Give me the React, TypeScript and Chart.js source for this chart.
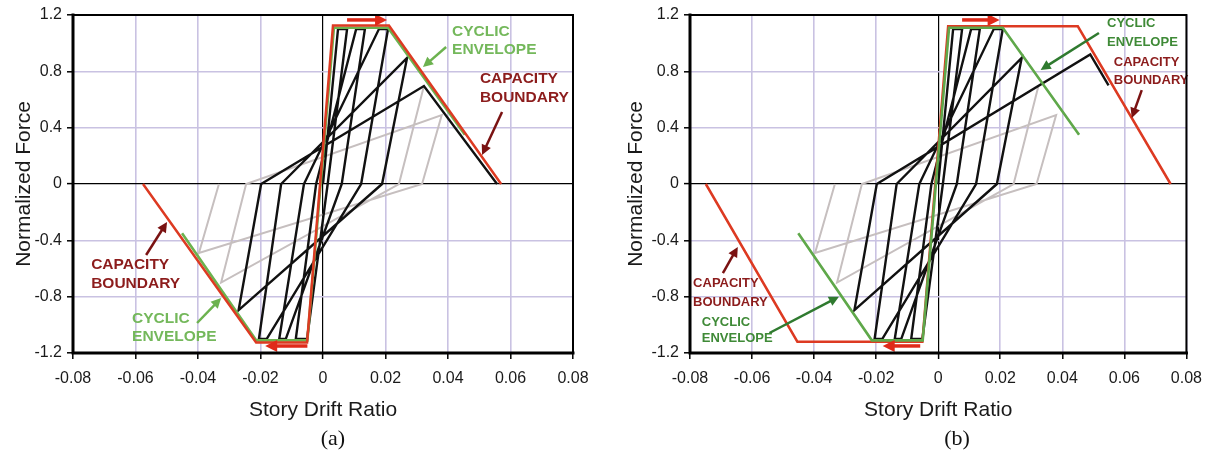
import React, { useEffect, useRef } from 'react';
import { Chart, registerables } from 'chart.js';

Chart.register(...registerables);

// ---------- axis ticks ----------
const xTickValues = [-0.08, -0.06, -0.04, -0.02, 0, 0.02, 0.04, 0.06, 0.08];
const xTickLabels = ['-0.08', '-0.06', '-0.04', '-0.02', '0', '0.02', '0.04', '0.06', '0.08'];
const yTickValues = [-1.2, -0.8, -0.4, 0, 0.4, 0.8, 1.2];
const yTickLabels = ['-1.2', '-0.8', '-0.4', '0', '0.4', '0.8', '1.2'];

// ---------- black hysteresis: first cycles (both panels) ----------
const cycleDrift = [0, 0.0048, 0.0077, 0.0015, -0.0051, -0.0087, -0.0022, 0.0106, 0.0134, 0.006, -0.0119, -0.014, -0.0061, 0.0179, 0.0208, 0.0122, -0.018, -0.0205, -0.0134, 0.0269, 0.0189, -0.027, -0.0198];
const cycleForce = [0, 1.1, 1.1, 0, -1.1, -1.1, 0, 1.1, 1.1, 0, -1.1, -1.1, 0, 1.1, 1.1, 0, -1.1, -1.1, 0, 0.895, 0, -0.895, 0];

// last black excursion, panel (a) and panel (b)
const tailDriftA = [0.0323, 0.0557];
const tailForceA = [0.696, 0];
const tailDriftB = [0.049, 0.0549];
const tailForceB = [0.92, 0.7];

// grey continuation cycles (both panels)
const grayDrift = [0.0323, 0.0243, -0.0326, -0.0246, 0.038, 0.0317, -0.0397, -0.0333];
const grayForce = [0.696, 0, -0.7, 0, 0.49, 0, -0.49, 0];

// cyclic envelope (both panels)
const envelopeDrift = [-0.0451, -0.0214, -0.005, 0.0035, 0.0208, 0.0454];
const envelopeForce = [-0.35, -1.11, -1.11, 1.11, 1.11, 0.35];

// capacity boundary
const capacityDriftA = [-0.0576, -0.0214, -0.0051, 0.0032, 0.0211, 0.057];
const capacityForceA = [0, -1.125, -1.125, 1.125, 1.125, 0];
const capacityDriftB = [-0.0749, -0.0454, -0.0051, 0.0032, 0.045, 0.0749];
const capacityForceB = [0, -1.12, -1.12, 1.12, 1.12, 0];

const FONT = "'Liberation Sans', Arial, Helvetica, sans-serif";
const GRID = '#c9c2e2';

const pts = (xs: number[], ys: number[]) => xs.map((x, i) => ({ x, y: ys[i] }));

// ---------- annotations (layout) ----------
const annotA = {
  texts: [
    { t: 'CYCLIC', x: 0.0413, y: 1.08, c: '#74b85b', s: 15.5 },
    { t: 'ENVELOPE', x: 0.0413, y: 0.951, c: '#74b85b', s: 15.5 },
    { t: 'CAPACITY', x: 0.0502, y: 0.745, c: '#8c1c1c', s: 15.5 },
    { t: 'BOUNDARY', x: 0.0502, y: 0.61, c: '#8c1c1c', s: 15.5 },
    { t: 'CAPACITY', x: -0.0742, y: -0.575, c: '#8c1c1c', s: 15.5 },
    { t: 'BOUNDARY', x: -0.0742, y: -0.71, c: '#8c1c1c', s: 15.5 },
    { t: 'CYCLIC', x: -0.0611, y: -0.958, c: '#74b85b', s: 15.5 },
    { t: 'ENVELOPE', x: -0.0611, y: -1.086, c: '#74b85b', s: 15.5 },
  ],
  arrows: [
    { a: [0.0394, 0.973], b: [0.032, 0.83], c: '#6cb24f', w: 2.5, h: 10 },
    { a: [0.0573, 0.511], b: [0.0509, 0.206], c: '#7a1212', w: 2.5, h: 10 },
    { a: [-0.0566, -0.504], b: [-0.0499, -0.27], c: '#7a1212', w: 2.5, h: 10 },
    { a: [-0.0403, -0.987], b: [-0.0326, -0.81], c: '#6cb24f', w: 2.5, h: 10 },
    { a: [0.0077, 1.165], b: [0.0205, 1.165], c: '#e02a1a', w: 3.5, h: 12 },
    { a: [-0.005, -1.15], b: [-0.0185, -1.15], c: '#e02a1a', w: 3.5, h: 12 },
  ],
};

const annotB = {
  texts: [
    { t: 'CYCLIC', x: 0.0544, y: 1.143, c: '#3f8a37', s: 13 },
    { t: 'ENVELOPE', x: 0.0544, y: 1.008, c: '#3f8a37', s: 13 },
    { t: 'CAPACITY', x: 0.0566, y: 0.866, c: '#8c1c1c', s: 13 },
    { t: 'BOUNDARY', x: 0.0566, y: 0.738, c: '#8c1c1c', s: 13 },
    { t: 'CAPACITY', x: -0.079, y: -0.703, c: '#8c1c1c', s: 13 },
    { t: 'BOUNDARY', x: -0.079, y: -0.838, c: '#8c1c1c', s: 13 },
    { t: 'CYCLIC', x: -0.0762, y: -0.98, c: '#3f8a37', s: 13 },
    { t: 'ENVELOPE', x: -0.0762, y: -1.1, c: '#3f8a37', s: 13 },
  ],
  arrows: [
    { a: [0.0518, 1.072], b: [0.033, 0.81], c: '#2f7a2f', w: 2.5, h: 10 },
    { a: [0.0656, 0.667], b: [0.0624, 0.469], c: '#7a1212', w: 2.5, h: 10 },
    { a: [-0.0694, -0.632], b: [-0.0646, -0.447], c: '#7a1212', w: 2.5, h: 10 },
    { a: [-0.0544, -1.058], b: [-0.032, -0.8], c: '#2f7a2f', w: 2.5, h: 10 },
    { a: [0.0077, 1.165], b: [0.0198, 1.165], c: '#e02a1a', w: 3.5, h: 12 },
    { a: [-0.0058, -1.15], b: [-0.0179, -1.15], c: '#e02a1a', w: 3.5, h: 12 },
  ],
};

const annotPlugin = {
  id: 'annot',
  afterDatasetsDraw(chart: any, _args: any, opts: any) {
    const { ctx } = chart;
    const xs = chart.scales.x;
    const ys = chart.scales.y;
    ctx.save();
    for (const ar of opts.arrows || []) {
      const x1 = xs.getPixelForValue(ar.a[0]);
      const y1 = ys.getPixelForValue(ar.a[1]);
      const x2 = xs.getPixelForValue(ar.b[0]);
      const y2 = ys.getPixelForValue(ar.b[1]);
      const ang = Math.atan2(y2 - y1, x2 - x1);
      const hl = ar.h;
      const hw = ar.h * 0.5;
      const bx = x2 - Math.cos(ang) * hl * 0.8;
      const by = y2 - Math.sin(ang) * hl * 0.8;
      ctx.strokeStyle = ar.c;
      ctx.fillStyle = ar.c;
      ctx.lineWidth = ar.w;
      ctx.lineCap = 'butt';
      ctx.beginPath();
      ctx.moveTo(x1, y1);
      ctx.lineTo(bx, by);
      ctx.stroke();
      ctx.beginPath();
      ctx.moveTo(x2, y2);
      ctx.lineTo(x2 - Math.cos(ang) * hl - Math.sin(ang) * hw, y2 - Math.sin(ang) * hl + Math.cos(ang) * hw);
      ctx.lineTo(x2 - Math.cos(ang) * hl + Math.sin(ang) * hw, y2 - Math.sin(ang) * hl - Math.cos(ang) * hw);
      ctx.closePath();
      ctx.fill();
    }
    for (const t of opts.texts || []) {
      ctx.font = `bold ${t.s}px ${FONT}`;
      ctx.fillStyle = t.c;
      ctx.textAlign = 'left';
      ctx.textBaseline = 'middle';
      ctx.fillText(t.t, xs.getPixelForValue(t.x), ys.getPixelForValue(t.y));
    }
    ctx.restore();
  },
};

const framePlugin = {
  id: 'frame',
  afterDraw(chart: any) {
    const { ctx, chartArea: a } = chart;
    ctx.save();
    ctx.strokeStyle = '#000';
    ctx.lineCap = 'square';
    ctx.lineWidth = 2;
    ctx.beginPath();
    ctx.moveTo(a.left, a.top);
    ctx.lineTo(a.right, a.top);
    ctx.lineTo(a.right, a.bottom);
    ctx.stroke();
    ctx.lineWidth = 3;
    ctx.beginPath();
    ctx.moveTo(a.left, a.top);
    ctx.lineTo(a.left, a.bottom);
    ctx.lineTo(a.right, a.bottom);
    ctx.stroke();
    ctx.restore();
  },
};

function buildConfig(panel: 'a' | 'b'): any {
  const isA = panel === 'a';
  const capacity = {
    data: pts(isA ? capacityDriftA : capacityDriftB, isA ? capacityForceA : capacityForceB),
    borderColor: '#dd3a22',
    borderWidth: 2.5,
    order: isA ? 0 : 1,
  };
  const envelope = {
    data: pts(envelopeDrift, envelopeForce),
    borderColor: isA ? '#6cb24f' : '#5fa84a',
    borderWidth: 2.6,
    order: isA ? 1 : 0,
  };
  const black = {
    data: pts(
      cycleDrift.concat(isA ? tailDriftA : tailDriftB),
      cycleForce.concat(isA ? tailForceA : tailForceB)
    ),
    borderColor: '#111',
    borderWidth: 2.4,
    order: 2,
  };
  const gray = {
    data: pts(grayDrift, grayForce),
    borderColor: '#c6bfbf',
    borderWidth: 2,
    order: 3,
  };
  const datasets = [capacity, envelope, black, gray].map((d) => ({
    ...d,
    showLine: true,
    pointRadius: 0,
    fill: false,
    tension: 0,
    borderJoinStyle: 'miter',
  }));

  const gridColor = (c: any) => (c.tick && Math.abs(c.tick.value) < 1e-9 ? '#000' : GRID);
  const gridWidth = (c: any) => (c.tick && Math.abs(c.tick.value) < 1e-9 ? 1.2 : 1.6);

  return {
    type: 'scatter',
    data: { datasets },
    options: {
      responsive: false,
      animation: false,
      events: [],
      layout: { padding: { left: 0, right: isA ? 33 : 22, top: 15, bottom: 0 } },
      plugins: {
        legend: { display: false },
        tooltip: { enabled: false },
        annot: isA ? annotA : annotB,
      },
      scales: {
        x: {
          type: 'linear',
          min: -0.08,
          max: 0.08,
          afterBuildTicks: (s: any) => {
            s.ticks = xTickValues.map((v) => ({ value: v }));
          },
          afterFit: (s: any) => {
            s.height = 100;
          },
          ticks: {
            callback: (_v: any, i: number) => xTickLabels[i],
            font: { size: 16, family: FONT },
            color: '#1a1a1a',
            padding: 10,
            maxRotation: 0,
            autoSkip: false,
          },
          grid: { color: gridColor, lineWidth: gridWidth, tickLength: 6, tickColor: '#000', tickWidth: 1.5 },
          border: { display: false },
          title: {
            display: true,
            text: 'Story Drift Ratio',
            font: { size: 21, family: FONT },
            color: '#1a1a1a',
            padding: { top: 0, bottom: 30 },
          },
        },
        y: {
          type: 'linear',
          min: -1.2,
          max: 1.2,
          afterBuildTicks: (s: any) => {
            s.ticks = yTickValues.map((v) => ({ value: v }));
          },
          afterFit: (s: any) => {
            s.width = isA ? 73 : 84;
          },
          ticks: {
            callback: (_v: any, i: number) => yTickLabels[i],
            font: { size: 16, family: FONT },
            color: '#1a1a1a',
            padding: 5,
            autoSkip: false,
          },
          grid: { color: gridColor, lineWidth: gridWidth, tickLength: 6, tickColor: '#000', tickWidth: 1.5 },
          border: { display: false },
          title: {
            display: true,
            text: 'Normalized Force',
            font: { size: 21, family: FONT },
            color: '#1a1a1a',
            padding: { top: isA ? 12 : 18, bottom: 0 },
          },
        },
      },
    },
    plugins: [framePlugin, annotPlugin],
  };
}

function Panel({ panel, left }: { panel: 'a' | 'b'; left: number }) {
  const ref = useRef<HTMLCanvasElement>(null);
  useEffect(() => {
    const chart = new Chart(ref.current as HTMLCanvasElement, buildConfig(panel));
    return () => chart.destroy();
  }, [panel]);
  return (
    <canvas
      ref={ref}
      width={606}
      height={453}
      style={{ position: 'absolute', left, top: 0, width: 606, height: 453 }}
    />
  );
}

const captionStyle: React.CSSProperties = {
  position: 'absolute',
  top: 424,
  width: 100,
  textAlign: 'center',
  fontFamily: "'Liberation Serif', 'Times New Roman', serif",
  fontSize: 22,
  lineHeight: '28px',
  color: '#111',
};

export default function App() {
  return (
    <div style={{ position: 'absolute', left: 0, top: 0, width: 1212, height: 453, background: '#fff', overflow: 'hidden' }}>
      <Panel panel="a" left={0} />
      <Panel panel="b" left={606} />
      <div style={{ ...captionStyle, left: 283 }}>(a)</div>
      <div style={{ ...captionStyle, left: 907 }}>(b)</div>
    </div>
  );
}
